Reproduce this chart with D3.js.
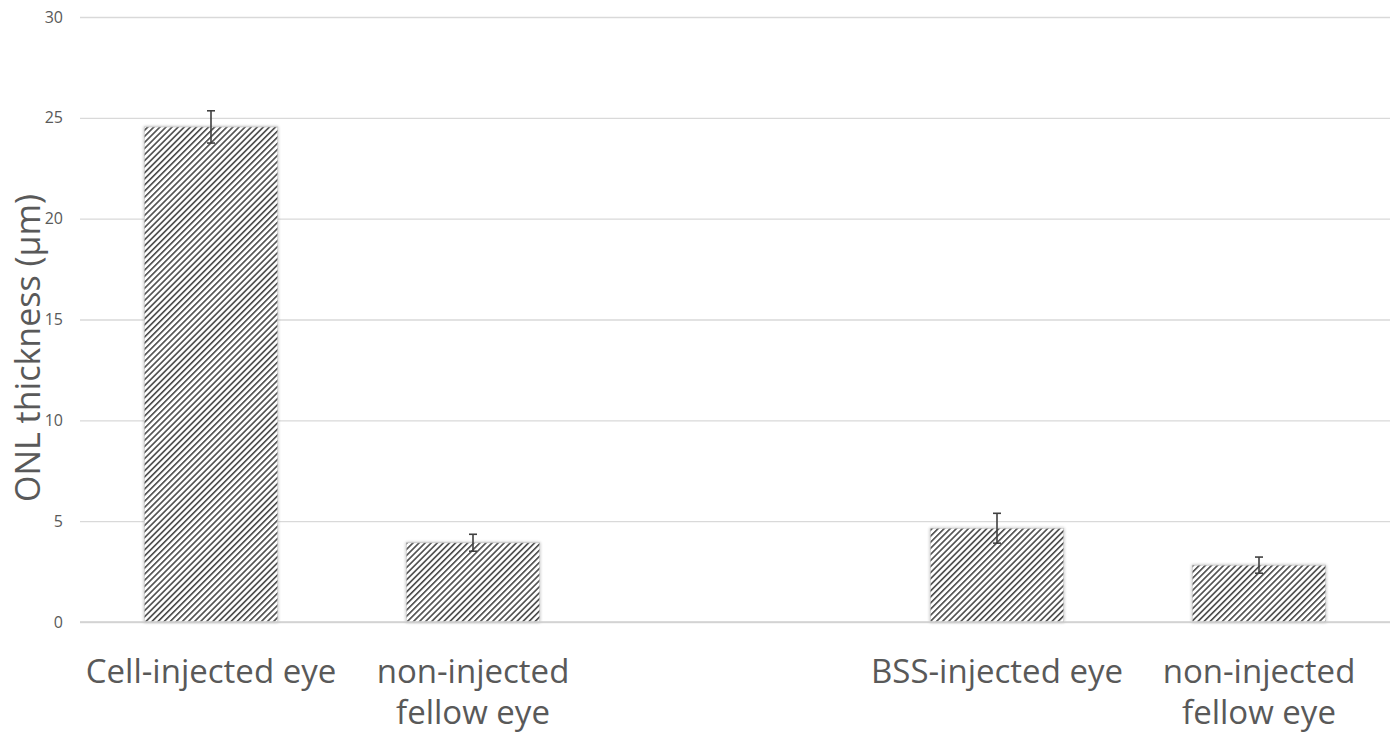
<!DOCTYPE html>
<html><head><meta charset="utf-8">
<script src="https://cdn.jsdelivr.net/npm/d3@7"></script>
<style>body{margin:0;background:#fff;} svg{display:block;}</style>
</head><body>
<svg id="c" width="1390" height="734"></svg>
<script>
const categories = ["Cell-injected eye", "non-injected\nfellow eye", "", "BSS-injected eye", "non-injected\nfellow eye"];
const values = [24.55, 3.93, null, 4.65, 2.82];
const errors = [0.8, 0.42, null, 0.74, 0.4];
const yTicks = [0, 5, 10, 15, 20, 25, 30];
const yLabel = "ONL thickness (µm)";

const svg = d3.select("#c");
const W = 1390, H = 734;
const m = {left: 80, right: 0, top: 17, bottom: 112};
const font = "'Open Sans', sans-serif";

const x = d3.scaleBand().domain(d3.range(categories.length)).range([m.left, W - m.right]).paddingInner(0.49).paddingOuter(0.245);
const y = d3.scaleLinear().domain([0, 30]).range([H - m.bottom, m.top]);

const defs = svg.append("defs");
const P = 4.3;
const pat = defs.append("pattern").attr("id", "hatch").attr("patternUnits", "userSpaceOnUse")
  .attr("width", P).attr("height", P).attr("patternTransform", "rotate(45)");
pat.append("rect").attr("width", P).attr("height", P).attr("fill", "#fff");
pat.append("rect").attr("x", 0).attr("width", 1.6).attr("height", P).attr("fill", "#4a4a4a");
const flt = defs.append("filter").attr("id", "sh").attr("x", "-10%").attr("y", "-10%").attr("width", "120%").attr("height", "120%");
flt.append("feGaussianBlur").attr("in", "SourceAlpha").attr("stdDeviation", 1.5).attr("result", "b");
flt.append("feComponentTransfer").attr("in","b").attr("result","b2").append("feFuncA").attr("type","linear").attr("slope",0.3);
const mg = flt.append("feMerge"); mg.append("feMergeNode").attr("in","b2"); mg.append("feMergeNode").attr("in","SourceGraphic");

// grid
const yAxis = d3.axisLeft(y).tickValues(yTicks).tickSize(-(W - m.left - m.right)).tickPadding(17);
const ga = svg.append("g").attr("transform", `translate(${m.left},0)`).call(yAxis);
ga.select(".domain").remove();
ga.selectAll(".tick line").attr("stroke", "#d9d9d9").attr("stroke-width", 1.3);
ga.selectAll(".tick text").attr("fill", "#595959").attr("font-size", 16).attr("font-family", font);

// bars
const data = values.map((v, i) => ({i, v, e: errors[i]})).filter(d => d.v !== null);
svg.append("g").selectAll("rect").data(data).join("rect")
  .attr("x", d => x(d.i)).attr("width", x.bandwidth())
  .attr("y", d => y(d.v)).attr("height", d => y(0) - y(d.v))
  .attr("fill", "url(#hatch)").attr("stroke", "#c4c4c4").attr("stroke-width", 0.8)
  .attr("filter", "url(#sh)");

// baseline
svg.append("line").attr("x1", m.left).attr("x2", W).attr("y1", y(0)).attr("y2", y(0)).attr("stroke", "#d0d0d0").attr("stroke-width", 1.5);

// error bars
const eg = svg.append("g").attr("stroke", "#404040").attr("stroke-width", 1.6);
data.forEach(d => {
  const cx = x(d.i) + x.bandwidth() / 2;
  eg.append("line").attr("x1", cx).attr("x2", cx).attr("y1", y(d.v + d.e)).attr("y2", y(d.v - d.e));
  eg.append("line").attr("x1", cx - 4).attr("x2", cx + 4).attr("y1", y(d.v + d.e)).attr("y2", y(d.v + d.e));
  eg.append("line").attr("x1", cx - 4).attr("x2", cx + 4).attr("y1", y(d.v - d.e)).attr("y2", y(d.v - d.e));
});

// category labels
categories.forEach((c, i) => {
  if (!c) return;
  const cx = x(i) + x.bandwidth() / 2;
  const lines = c.split("\n");
  const t = svg.append("text").attr("text-anchor", "middle").attr("fill", "#595959")
    .attr("font-size", 33).attr("font-family", font);
  lines.forEach((l, k) => t.append("tspan").attr("x", cx).attr("y", 683 + k * 41).text(l));
});

// y label
svg.append("text").attr("transform", `translate(40,348) rotate(-90)`)
  .attr("text-anchor", "middle").attr("fill", "#595959").attr("font-size", 34).attr("font-family", font)
  .text(yLabel);
</script>
</body></html>
